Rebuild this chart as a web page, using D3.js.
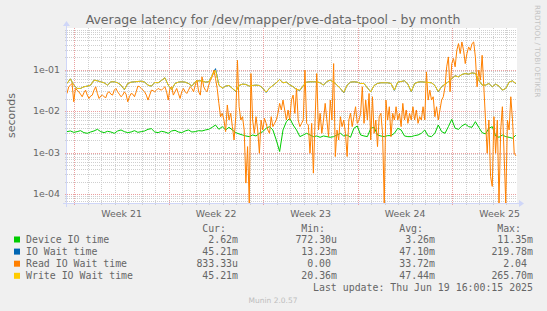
<!DOCTYPE html>
<html>
<head>
<meta charset="utf-8">
<script src="https://cdn.jsdelivr.net/npm/d3@7"></script>
<style>
  body { margin: 0; background: #f0f0f0; }
  svg { display: block; font-family: 'DejaVu Sans', sans-serif; }
  .mono { font-family: 'DejaVu Sans Mono', monospace; }
</style>
</head>
<body>
<svg id="chart" width="547" height="311"></svg>
<script>
// ---- data ----
const title = 'Average latency for /dev/mapper/pve-data-tpool - by month';
const yTicks = [1e-1, 1e-2, 1e-3, 1e-4];
const yTickLabels = ['1e-01', '1e-02', '1e-03', '1e-04'];
const weekStarts = ['2025-05-19', '2025-05-26', '2025-06-02', '2025-06-09', '2025-06-16'];
const weekLabels = ['Week 21', 'Week 22', 'Week 23', 'Week 24', 'Week 25'];

// first sample sits on the left edge of the graph
const firstSample = '2025-05-18T11:00';
const smoothStepHours = 6;
const readStepHours = 3;

// Device IO time, every 6h
const deviceIo = [
  0.00319, 0.00331, 0.00307, 0.00319, 0.00337, 0.00302, 0.00291, 0.00313, 0.00331, 0.00363,
  0.00319, 0.00302, 0.00325, 0.00313, 0.00291, 0.00331, 0.0035, 0.00319, 0.00302, 0.00313,
  0.00337, 0.00307, 0.00319, 0.00331, 0.00363, 0.00377, 0.00313, 0.00302, 0.00325, 0.00313,
  0.00291, 0.00331, 0.00344, 0.00313, 0.00302, 0.00331, 0.0035, 0.00313, 0.00319, 0.00337,
  0.00331, 0.0035, 0.00363, 0.00406, 0.00461, 0.00363, 0.00421, 0.0035, 0.00406, 0.0035,
  0.00302, 0.00281, 0.00265, 0.00251, 0.00242, 0.00265, 0.00251, 0.00291, 0.00319, 0.00384,
  0.00421, 0.0035, 0.00201, 0.00106, 0.0035, 0.00555, 0.00667, 0.00461, 0.0035, 0.00242,
  0.00265, 0.00291, 0.00265, 0.00242, 0.00251, 0.00233, 0.00251, 0.00242, 0.00233, 0.00242,
  0.00265, 0.00291, 0.00251, 0.00265, 0.00233, 0.00384, 0.00437, 0.00265, 0.00251, 0.00242,
  0.00384, 0.00406, 0.00265, 0.00251, 0.00242, 0.00256, 0.00256, 0.00291, 0.00384, 0.0035,
  0.00251, 0.00242, 0.00242, 0.00256, 0.00265, 0.00291, 0.0035, 0.00251, 0.00242, 0.00291,
  0.00461, 0.00319, 0.00291, 0.00421, 0.00631, 0.00384, 0.00363, 0.00437, 0.00488, 0.00421,
  0.00406, 0.00555, 0.00406, 0.00302, 0.00281, 0.00384, 0.00421, 0.00251, 0.00233, 0.00265,
  0.00242, 0.00233, 0.00221, 0.00262
];

// IO Wait time, every 6h (mostly hidden under the write line)
const ioWait = [
  0.0461, 0.0597, 0.0421, 0.035, 0.035, 0.0384, 0.0398, 0.0421, 0.0555, 0.0535,
  0.0506, 0.0479, 0.0421, 0.0506, 0.0506, 0.0479, 0.0421, 0.0325, 0.0461, 0.0497,
  0.0506, 0.0515, 0.0525, 0.0497, 0.0421, 0.0398, 0.0488, 0.0479, 0.0545, 0.0631,
  0.0421, 0.0326, 0.0461, 0.0497, 0.0506, 0.0497, 0.0461, 0.0398, 0.0506, 0.0535,
  0.0535, 0.0497, 0.0506, 0.0718, 0.105, 0.0421, 0.0356, 0.0398, 0.0413, 0.035,
  0.0295, 0.0413, 0.0445, 0.0437, 0.0398, 0.0413, 0.0421, 0.0413, 0.0356, 0.028,
  0.0356, 0.0413, 0.0479, 0.0575, 0.0479, 0.0497, 0.0429, 0.0384, 0.0331, 0.0312,
  0.0413, 0.0497, 0.0506, 0.0506, 0.0506, 0.0479, 0.0421, 0.0515, 0.0555, 0.0497,
  0.0421, 0.035, 0.0276, 0.0421, 0.0497, 0.0506, 0.0497, 0.0461, 0.0461, 0.0363,
  0.0291, 0.0413, 0.0461, 0.0479, 0.0479, 0.0479, 0.0461, 0.0314, 0.0497, 0.0515,
  0.0535, 0.0445, 0.029, 0.0461, 0.0497, 0.0506, 0.0497, 0.0488, 0.0479, 0.0413,
  0.029, 0.0384, 0.0445, 0.0506, 0.0608, 0.0705, 0.0667, 0.0759, 0.0802, 0.0773,
  0.0832, 0.0802, 0.0555, 0.0421, 0.0421, 0.0461, 0.0384, 0.0445, 0.0398, 0.0319,
  0.035, 0.0497, 0.0535, 0.0452
];

// Read IO Wait time, every 3h
const readIoWait = [
  0.0265, 0.0384, 0.0421, 0.0461, 0.0167, 0.035, 0.0319, 0.0291, 0.0255, 0.0221,
  0.0275, 0.0319, 0.0242, 0.0201, 0.023, 0.0242, 0.0319, 0.0384, 0.0265, 0.0201,
  0.023, 0.0242, 0.0221, 0.021, 0.0275, 0.0291, 0.0255, 0.0242, 0.0319, 0.035,
  0.0291, 0.0255, 0.0221, 0.0242, 0.0291, 0.0255, 0.0167, 0.0221, 0.0265, 0.0255,
  0.0221, 0.0291, 0.0398, 0.0384, 0.035, 0.0319, 0.0291, 0.0242, 0.0184, 0.0242,
  0.0319, 0.031, 0.0291, 0.0319, 0.035, 0.0331, 0.0319, 0.035, 0.0384, 0.0291,
  0.0184, 0.035, 0.0384, 0.0242, 0.0291, 0.035, 0.0265, 0.0201, 0.0291, 0.035,
  0.0291, 0.0265, 0.0319, 0.0384, 0.035, 0.0291, 0.0421, 0.0555, 0.0291, 0.0242,
  0.0667, 0.0384, 0.0319, 0.0291, 0.0421, 0.0555, 0.0667, 0.0964, 0.0608, 0.035,
  0.0153, 0.00731, 0.00879, 0.00608, 0.00319, 0.014, 0.00608, 0.00879, 0.00421, 0.00201,
  0.00731, 0.167, 0.0127, 0.00608, 0.00731, 0.0035, 0.000184, 0.00139, 0, 0.0802,
  0.00608, 0.00291, 0.00731, 0.0035, 0.000964, 0.00608, 0.0035, 0.00667, 0.00506, 0.0035,
  0.00291, 0.00731, 0.00421, 0.00506, 0.00608, 0.00879, 0.0153, 0.0106, 0.0184, 0.0106,
  0.00608, 0.0106, 0.00608, 0.0184, 0.0242, 0.00879, 0.035, 0.00608, 0.00421, 0.00506,
  0.00608, 0.0964, 0.00506, 0.00461, 0.000964, 0.00506, 0.000319, 0.00608, 0.0802, 0.0035,
  0.00879, 0.00291, 0.00608, 0.0153, 0.00608, 0.00242, 0.0184, 0.00608, 0.139, 0.000802,
  0.0035, 0.00201, 0.00731, 0.00421, 0.00608, 0.00291, 0.000802, 0.00608, 0.00879, 0.00421,
  0.00731, 0.0127, 0.00506, 0.00608, 0.00879, 0.0384, 0.00506, 0.0184, 0.00608, 0.0265,
  0.00201, 0.0221, 0.00291, 0.00608, 0.00139, 0.00731, 0.00879, 0.00291, 0, 0.0184,
  0.00608, 0.0127, 0.00242, 0.00879, 0.00608, 0.0127, 0.00608, 0.00879, 0.00421, 0.0153,
  0.00608, 0.0106, 0.00506, 0.00879, 0.00608, 0.0127, 0.00608, 0.0106, 0.00506, 0.00731,
  0.00608, 0.0127, 0.00608, 0.0879, 0.0184, 0.0319, 0.0184, 0.0221, 0.00731, 0.0127,
  0.00608, 0.0106, 0.0184, 0.0221, 0.0384, 0.116, 0.201, 0.0291, 0.139, 0.184,
  0.116, 0.291, 0.421, 0.242, 0.461, 0.291, 0.139, 0.242, 0.35, 0.291,
  0.421, 0.461, 0.201, 0.0384, 0.0964, 0.0555, 0.22, 0.0384, 0.00608, 0.000964,
  0.00608, 0.000265, 0.000153, 0.00731, 0.000964, 0.00608, 0, 0.0035, 0.0127, 0.000964,
  0, 0.00608, 0.0035, 0.0221, 0.00608, 0.000964, 0.000833
];

// Write IO Wait time, every 6h
const writeIoWait = [
  0.0461, 0.0597, 0.0421, 0.035, 0.035, 0.0384, 0.0398, 0.0421, 0.0555, 0.0535,
  0.0506, 0.0479, 0.0421, 0.0506, 0.0506, 0.0479, 0.0421, 0.0331, 0.0461, 0.0497,
  0.0506, 0.0515, 0.0525, 0.0497, 0.0421, 0.0398, 0.0488, 0.0479, 0.0545, 0.0631,
  0.0421, 0.0331, 0.0461, 0.0497, 0.0506, 0.0497, 0.0461, 0.0398, 0.0506, 0.0535,
  0.0535, 0.0497, 0.0506, 0.0718, 0.0964, 0.0421, 0.0356, 0.0398, 0.0413, 0.035,
  0.0302, 0.0413, 0.0445, 0.0437, 0.0398, 0.0413, 0.0421, 0.0413, 0.0356, 0.0286,
  0.0356, 0.0413, 0.0479, 0.0575, 0.0479, 0.0497, 0.0429, 0.0384, 0.0331, 0.0319,
  0.0413, 0.0497, 0.0506, 0.0506, 0.0506, 0.0479, 0.0421, 0.0515, 0.0555, 0.0497,
  0.0421, 0.035, 0.0281, 0.0421, 0.0497, 0.0506, 0.0497, 0.0461, 0.0461, 0.0363,
  0.0291, 0.0413, 0.0461, 0.0479, 0.0479, 0.0479, 0.0461, 0.0319, 0.0497, 0.0515,
  0.0535, 0.0445, 0.0296, 0.0461, 0.0497, 0.0506, 0.0497, 0.0488, 0.0479, 0.0413,
  0.0296, 0.0384, 0.0445, 0.0506, 0.0608, 0.0705, 0.0667, 0.0759, 0.0802, 0.0773,
  0.0832, 0.0802, 0.0555, 0.0421, 0.0421, 0.0461, 0.0384, 0.0445, 0.0398, 0.0319,
  0.035, 0.0497, 0.0535, 0.0461
];

// legend table
const seriesNames = ['Device IO time', 'IO Wait time', 'Read IO Wait time', 'Write IO Wait time'];
const seriesColors = ['#00cc00', '#0066b3', '#ff8000', '#ffcc00'];
const curValues = ['2.62m', '45.21m', '833.33u', '45.21m'];
const minValues = ['772.30u', '13.23m', '0.00', '20.36m'];
const avgValues = ['3.26m', '47.10m', '33.72m', '47.44m'];
const maxValues = ['11.35m', '219.78m', '2.04', '265.70m'];
const lastUpdate = 'Last update: Thu Jun 19 16:00:15 2025';

// ---- layout ----
const width = 547;
const height = 311;
const margin = { left: 67, right: 30, top: 28, bottom: 108 };
const plotRight = width - margin.right;
const plotBottom = height - margin.bottom;
const fontColor = '#666666';
const axisColor = '#cfd6f8';

const svg = d3.select('#chart');
svg.append('rect').attr('width', width).attr('height', height).attr('fill', '#f0f0f0');

const parseDay = d3.timeParse('%Y-%m-%d');
const parseStamp = d3.timeParse('%Y-%m-%dT%H:%M');
const tStart = parseStamp(firstSample);
const tEnd = d3.timeHour.offset(tStart, 800);

const xScale = d3.scaleTime().domain([tStart, tEnd]).range([margin.left, plotRight]);
const yScale = d3.scaleLog().domain([6.1e-5, 1]).range([plotBottom, margin.top]);

// canvas
svg.append('rect')
  .attr('x', margin.left).attr('y', margin.top)
  .attr('width', plotRight - margin.left).attr('height', plotBottom - margin.top)
  .attr('fill', '#ffffff');

// ---- grid ----
const grid = svg.append('g').attr('shape-rendering', 'crispEdges');
const px = v => Math.round(v) + 0.5;

const minorY = [];
d3.range(-5, 1).forEach(e => {
  d3.range(2, 10).forEach(k => {
    const v = k * Math.pow(10, e);
    if (v > yScale.domain()[0] && v < yScale.domain()[1]) minorY.push(v);
  });
});

grid.selectAll('.minor-y').data(minorY).enter().append('line')
  .attr('x1', margin.left - 2).attr('x2', plotRight)
  .attr('y1', d => px(yScale(d))).attr('y2', d => px(yScale(d)))
  .attr('stroke', '#cfcfcf').attr('stroke-dasharray', '1,1');

const weekDates = weekStarts.map(parseDay);
const dayLines = d3.timeDay.range(d3.timeDay.ceil(tStart), tEnd)
  .filter(d => !weekDates.some(w => +w === +d));

grid.selectAll('.minor-x').data(dayLines).enter().append('line')
  .attr('x1', d => px(xScale(d))).attr('x2', d => px(xScale(d)))
  .attr('y1', margin.top).attr('y2', plotBottom + 2)
  .attr('stroke', '#cfcfcf').attr('stroke-dasharray', '1,1');

grid.selectAll('.major-y').data(yTicks).enter().append('line')
  .attr('x1', margin.left - 2).attr('x2', plotRight)
  .attr('y1', d => px(yScale(d))).attr('y2', d => px(yScale(d)))
  .attr('stroke', '#eba0a0').attr('stroke-dasharray', '1,1');

grid.selectAll('.major-x').data(weekDates).enter().append('line')
  .attr('x1', d => px(xScale(d))).attr('x2', d => px(xScale(d)))
  .attr('y1', margin.top).attr('y2', plotBottom + 2)
  .attr('stroke', '#eba0a0').attr('stroke-dasharray', '1,1');

// ---- series ----
svg.append('clipPath').attr('id', 'plot-clip').append('rect')
  .attr('x', margin.left).attr('y', margin.top)
  .attr('width', plotRight - margin.left).attr('height', plotBottom - margin.top + 1);

const toPoints = (values, stepHours) =>
  values.map((v, i) => ({ t: d3.timeHour.offset(tStart, i * stepHours), v }));

const line = d3.line()
  .x(d => xScale(d.t))
  .y(d => (d.v > 0 ? yScale(d.v) : plotBottom));

const series = [
  { values: deviceIo, step: smoothStepHours, color: seriesColors[0] },
  { values: ioWait, step: smoothStepHours, color: seriesColors[1] },
  { values: readIoWait, step: readStepHours, color: seriesColors[2] },
  { values: writeIoWait, step: smoothStepHours, color: seriesColors[3] }
];

const lines = svg.append('g').attr('clip-path', 'url(#plot-clip)');
series.forEach(s => {
  lines.append('path')
    .datum(toPoints(s.values, s.step))
    .attr('d', line)
    .attr('fill', 'none')
    .attr('stroke', s.color)
    .attr('stroke-width', 1);
});

// ---- axes ----
const axes = svg.append('g').attr('shape-rendering', 'crispEdges');
axes.append('line')
  .attr('x1', margin.left - 4).attr('x2', plotRight + 3)
  .attr('y1', plotBottom + 0.5).attr('y2', plotBottom + 0.5)
  .attr('stroke', axisColor);
axes.append('line')
  .attr('x1', margin.left - 0.5).attr('x2', margin.left - 0.5)
  .attr('y1', plotBottom + 4).attr('y2', margin.top - 3)
  .attr('stroke', axisColor);

svg.append('path')
  .attr('d', `M${plotRight + 2},${plotBottom - 3} L${plotRight + 7},${plotBottom + 0.5} L${plotRight + 2},${plotBottom + 4} Z`)
  .attr('fill', axisColor);
svg.append('path')
  .attr('d', `M${margin.left - 4},${margin.top - 2} L${margin.left - 0.5},${margin.top - 7} L${margin.left + 3},${margin.top - 2} Z`)
  .attr('fill', axisColor);

// y tick labels
svg.selectAll('.y-label').data(yTicks).enter().append('text')
  .attr('x', margin.left - 7)
  .attr('y', d => yScale(d))
  .attr('dy', '0.36em')
  .attr('text-anchor', 'end')
  .attr('font-size', 9.4)
  .attr('fill', fontColor)
  .text((d, i) => yTickLabels[i]);

// week labels, centred on each week
svg.selectAll('.x-label').data(weekDates).enter().append('text')
  .attr('x', d => xScale(d3.timeHour.offset(d, 84)))
  .attr('y', plotBottom + 13.5)
  .attr('text-anchor', 'middle')
  .attr('font-size', 9.4)
  .attr('fill', fontColor)
  .text((d, i) => weekLabels[i]);

// titles
svg.append('text')
  .attr('x', 273).attr('y', 23.5)
  .attr('text-anchor', 'middle')
  .attr('font-size', 12.5)
  .attr('fill', fontColor)
  .text(title);

svg.append('text')
  .attr('transform', `translate(15, ${(margin.top + plotBottom) / 2}) rotate(-90)`)
  .attr('text-anchor', 'middle')
  .attr('font-size', 11)
  .attr('fill', fontColor)
  .text('seconds');

svg.append('text')
  .attr('transform', `translate(535, 5) rotate(90)`)
  .attr('font-size', 7.2)
  .attr('fill', '#c4c4c4')
  .text('RRDTOOL / TOBI OETIKER');

// ---- legend ----
const legend = svg.append('g').attr('class', 'mono').attr('font-size', 9.9).attr('fill', fontColor);
const charW = 6;
const columns = [
  { head: 'Cur:', values: curValues, right: 238 },
  { head: 'Min:', values: minValues, right: 337 },
  { head: 'Avg:', values: avgValues, right: 435 },
  { head: 'Max:', values: maxValues, right: 533 }
];
const headY = 231.5;
const rowY = i => 243 + i * 12.1;

columns.forEach(c => {
  legend.append('text')
    .attr('x', c.right - 2 * charW).attr('y', headY)
    .attr('text-anchor', 'end')
    .text(c.head);
  legend.selectAll(null).data(c.values).enter().append('text')
    .attr('x', d => (/\d$/.test(d) ? c.right - charW : c.right))
    .attr('y', (d, i) => rowY(i))
    .attr('text-anchor', 'end')
    .text(d => d);
});

seriesNames.forEach((name, i) => {
  svg.append('rect')
    .attr('x', 14).attr('y', rowY(i) - 6.5)
    .attr('width', 6).attr('height', 6)
    .attr('fill', seriesColors[i]);
  legend.append('text').attr('x', 26).attr('y', rowY(i)).text(name);
});

legend.append('text')
  .attr('x', 533).attr('y', rowY(4))
  .attr('text-anchor', 'end')
  .text(lastUpdate);

svg.append('text')
  .attr('x', 273).attr('y', 302.7)
  .attr('text-anchor', 'middle')
  .attr('font-size', 7.5)
  .attr('fill', '#bdbdbd')
  .text('Munin 2.0.57');
</script>
</body>
</html>
